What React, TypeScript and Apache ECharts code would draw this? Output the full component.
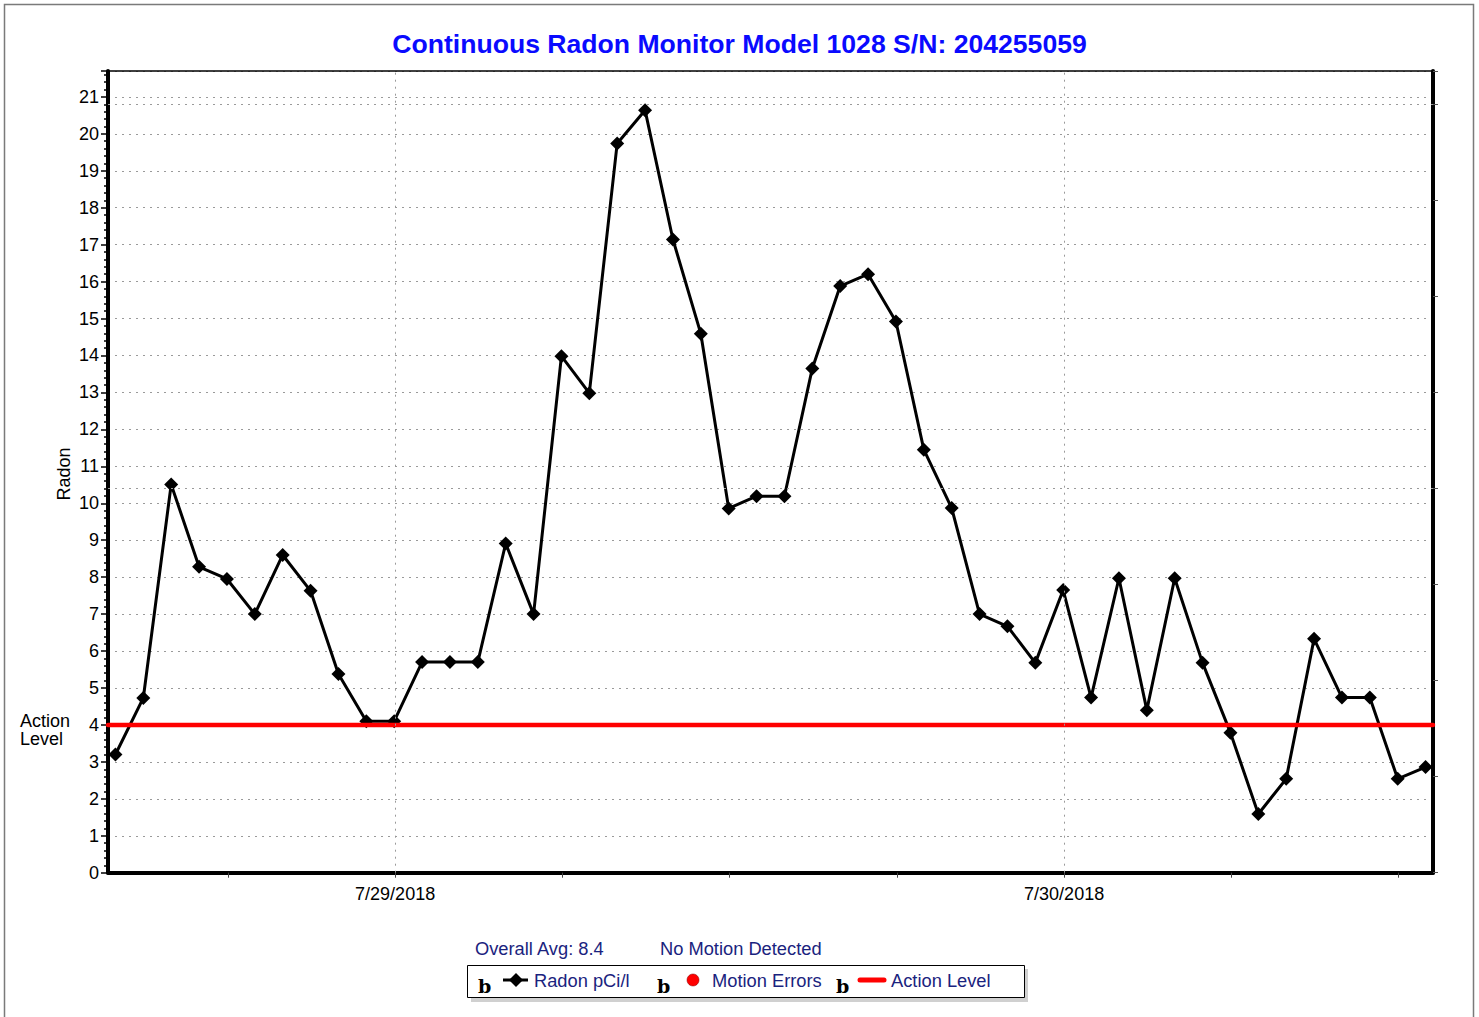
import React, { useEffect, useRef } from 'react';
import * as echarts from 'echarts';

const TITLE = 'Continuous Radon Monitor Model 1028 S/N: 204255059';

// hourly sample times of the monitor
const sampleTimes = [
  '2018-07-28T13:58', '2018-07-28T14:58', '2018-07-28T15:58', '2018-07-28T16:58',
  '2018-07-28T17:58', '2018-07-28T18:58', '2018-07-28T19:58', '2018-07-28T20:58',
  '2018-07-28T21:58', '2018-07-28T22:58', '2018-07-28T23:58',
  '2018-07-29T00:58', '2018-07-29T01:58', '2018-07-29T02:58', '2018-07-29T03:58',
  '2018-07-29T04:58', '2018-07-29T05:58', '2018-07-29T06:58', '2018-07-29T07:58',
  '2018-07-29T08:58', '2018-07-29T09:58', '2018-07-29T10:58', '2018-07-29T11:58',
  '2018-07-29T12:58', '2018-07-29T13:58', '2018-07-29T14:58', '2018-07-29T15:58',
  '2018-07-29T16:58', '2018-07-29T17:58', '2018-07-29T18:58', '2018-07-29T19:58',
  '2018-07-29T20:58', '2018-07-29T21:58', '2018-07-29T22:58', '2018-07-29T23:58',
  '2018-07-30T00:58', '2018-07-30T01:58', '2018-07-30T02:58', '2018-07-30T03:58',
  '2018-07-30T04:58', '2018-07-30T05:58', '2018-07-30T06:58', '2018-07-30T07:58',
  '2018-07-30T08:58', '2018-07-30T09:58', '2018-07-30T10:58', '2018-07-30T11:58',
  '2018-07-30T12:58',
];

const radon = [
  3.2, 4.73, 10.51, 8.28, 7.95, 7.0, 8.6, 7.63, 5.38, 4.1, 4.1,
  5.7, 5.7, 5.7, 8.91, 7.0, 13.98, 12.98, 19.74, 20.64, 17.14, 14.59,
  9.86, 10.19, 10.19, 13.65, 15.88, 16.2, 14.92, 11.45, 9.87, 7.0, 6.67,
  5.68, 7.65, 4.74, 7.97, 4.4, 7.97, 5.68, 3.79, 1.59, 2.54, 6.33,
  4.74, 4.74, 2.54, 2.86,
];

const ACTION_LEVEL = 4;
const Y_MAX = 21.7;
const RIGHT_AXIS_STEP = 2.6;
const secondaryGrid = [10.4, 20.8];

const axisStart = '2018-07-28T13:42';
const axisEnd = '2018-07-30T13:14';
const tickTimes = [
  '2018-07-28T18:00', '2018-07-29T00:00', '2018-07-29T06:00', '2018-07-29T12:00',
  '2018-07-29T18:00', '2018-07-30T00:00', '2018-07-30T06:00', '2018-07-30T12:00',
];
const dayLabelTimes = ['2018-07-29T00:00', '2018-07-30T00:00'];
const dayLabels = ['7/29/2018', '7/30/2018'];

const summaryTexts = ['Overall Avg: 8.4', 'No Motion Detected'];
const legendNames = ['Radon pCi/l', 'Motion Errors', 'Action Level'];
const actionLabelLines = ['Action', 'Level'];

const FONT = '"Liberation Sans", Arial, Helvetica, sans-serif';
const NAVY = '#1a237e';
const BASE = Date.parse('2018-07-29T00:00:00Z');
const toHours = (s: string) => (Date.parse(s + ':00Z') - BASE) / 3600000;

export default function App() {
  const ref = useRef<HTMLDivElement>(null);

  useEffect(() => {
    document.body.style.margin = '0';
    if (!ref.current) return;
    const chart = echarts.init(ref.current, undefined, { renderer: 'svg' });

    const xMin = toHours(axisStart);
    const xMax = toHours(axisEnd);
    const tickHours = tickTimes.map(toHours);
    const dayHours = dayLabelTimes.map(toHours);
    const radonData = sampleTimes.map((t, i) => [toHours(t), radon[i]]);

    const text = (x: number, y: number, t: string, opts: any = {}) => ({
      type: 'text',
      x,
      y,
      silent: true,
      rotation: opts.rotation || 0,
      style: {
        text: t,
        fill: opts.fill || '#000',
        font: opts.font || `18px ${FONT}`,
        textAlign: opts.align || 'left',
        textVerticalAlign: 'middle',
        verticalAlign: 'middle',
      },
    });

    const legendY = 980;
    const glyphFont = 'bold 19px "DejaVu Serif", serif';

    const option: any = {
      animation: false,
      backgroundColor: '#fff',
      grid: { left: 108, right: 46, top: 71, bottom: 144.3 },
      xAxis: [
        {
          type: 'value',
          min: xMin,
          max: xMax,
          position: 'bottom',
          axisLine: { show: true, onZero: false, lineStyle: { color: '#000', width: 4 } },
          axisTick: { show: true, customValues: tickHours, length: 5, lineStyle: { color: '#444', width: 1 } },
          axisLabel: {
            customValues: dayHours,
            formatter: (v: number) => {
              const i = dayHours.findIndex((h) => Math.abs(h - v) < 1e-6);
              return i >= 0 ? dayLabels[i] : '';
            },
            fontSize: 18,
            fontFamily: FONT,
            color: '#000',
            margin: 12,
          },
          splitLine: { show: false },
        },
        {
          type: 'value',
          min: xMin,
          max: xMax,
          position: 'top',
          axisLine: { show: true, onZero: false, lineStyle: { color: '#000', width: 1.5 } },
          axisTick: { show: false },
          axisLabel: { show: false },
          splitLine: { show: false },
        },
      ],
      yAxis: [
        {
          type: 'value',
          min: 0,
          max: Y_MAX,
          interval: 1,
          position: 'left',
          axisLine: { show: true, onZero: false, lineStyle: { color: '#000', width: 4 } },
          axisTick: { show: true, length: 7, lineStyle: { color: '#000', width: 1.5 } },
          minorTick: { show: true, splitNumber: 5, length: 4, lineStyle: { color: '#000', width: 1.5 } },
          axisLabel: { fontSize: 18, fontFamily: FONT, color: '#000', margin: 9, showMaxLabel: false },
          splitLine: { show: true, lineStyle: { color: '#9a9a9a', type: [2, 5], width: 1 } },
        },
        {
          type: 'value',
          min: 0,
          max: Y_MAX,
          interval: RIGHT_AXIS_STEP,
          position: 'right',
          axisLine: { show: true, onZero: false, lineStyle: { color: '#000', width: 4 } },
          axisTick: { show: true, length: 5, lineStyle: { color: '#555', width: 1 } },
          axisLabel: { show: false },
          splitLine: { show: false },
        },
      ],
      series: [
        {
          name: 'grid',
          type: 'line',
          data: [],
          z: 1,
          silent: true,
          markLine: {
            silent: true,
            symbol: 'none',
            label: { show: false },
            lineStyle: { color: '#9a9a9a', type: [2, 5], width: 1 },
            data: [
              ...dayHours.map((h) => ({ xAxis: h })),
              ...secondaryGrid.map((v) => ({ yAxis: v })),
            ],
          },
        },
        {
          name: legendNames[0],
          type: 'line',
          data: radonData,
          symbol: 'diamond',
          symbolSize: 14,
          z: 3,
          lineStyle: { color: '#000', width: 3 },
          itemStyle: { color: '#000' },
        },
        {
          name: legendNames[2],
          type: 'line',
          data: [[xMin, ACTION_LEVEL], [xMax, ACTION_LEVEL]],
          symbol: 'none',
          z: 4,
          lineStyle: { color: '#ff0000', width: 4.5, cap: 'round' },
        },
      ],
      graphic: [
        {
          type: 'rect',
          silent: true,
          z: -10,
          shape: { x: 4.5, y: 4.5, width: 1469, height: 1100 },
          style: { fill: 'none', stroke: '#7a7a7a', lineWidth: 1.5 },
        },
        text(739.5, 44, TITLE, { font: `bold 26.6px ${FONT}`, fill: '#0a0aff', align: 'center' }),
        text(64, 474, 'Radon', { rotation: Math.PI / 2, align: 'center' }),
        text(20, 720.5, actionLabelLines[0]),
        text(20, 738.5, actionLabelLines[1]),
        text(475, 948, summaryTexts[0], { fill: NAVY, font: `18.3px ${FONT}` }),
        text(660, 948, summaryTexts[1], { fill: NAVY, font: `18.3px ${FONT}` }),
        {
          type: 'rect',
          silent: true,
          shape: { x: 471, y: 969, width: 557, height: 33 },
          style: { fill: '#d0d0d0', stroke: 'none' },
        },
        {
          type: 'rect',
          silent: true,
          shape: { x: 467.5, y: 965.5, width: 557, height: 32 },
          style: { fill: '#fff', stroke: '#000', lineWidth: 1 },
        },
        text(478, 986, 'b', { font: glyphFont }),
        {
          type: 'line',
          silent: true,
          shape: { x1: 503, y1: legendY, x2: 528, y2: legendY },
          style: { stroke: '#000', lineWidth: 3 },
        },
        {
          type: 'polygon',
          silent: true,
          shape: { points: [[516, legendY - 7], [523, legendY], [516, legendY + 7], [509, legendY]] },
          style: { fill: '#000' },
        },
        text(534, legendY, legendNames[0], { fill: NAVY, font: `18.3px ${FONT}` }),
        text(657, 986, 'b', { font: glyphFont }),
        {
          type: 'circle',
          silent: true,
          shape: { cx: 693, cy: legendY, r: 6 },
          style: { fill: '#ff0000', stroke: '#800000', lineWidth: 0.5 },
        },
        text(712, legendY, legendNames[1], { fill: NAVY, font: `18.3px ${FONT}` }),
        text(836, 986, 'b', { font: glyphFont }),
        {
          type: 'line',
          silent: true,
          shape: { x1: 860, y1: legendY, x2: 884, y2: legendY },
          style: { stroke: '#ff0000', lineWidth: 5, lineCap: 'round' },
        },
        text(891, legendY, legendNames[2], { fill: NAVY, font: `18.3px ${FONT}` }),
      ],
    };

    chart.setOption(option);
    return () => chart.dispose();
  }, []);

  return <div ref={ref} style={{ width: 1479, height: 1017 }} />;
}
